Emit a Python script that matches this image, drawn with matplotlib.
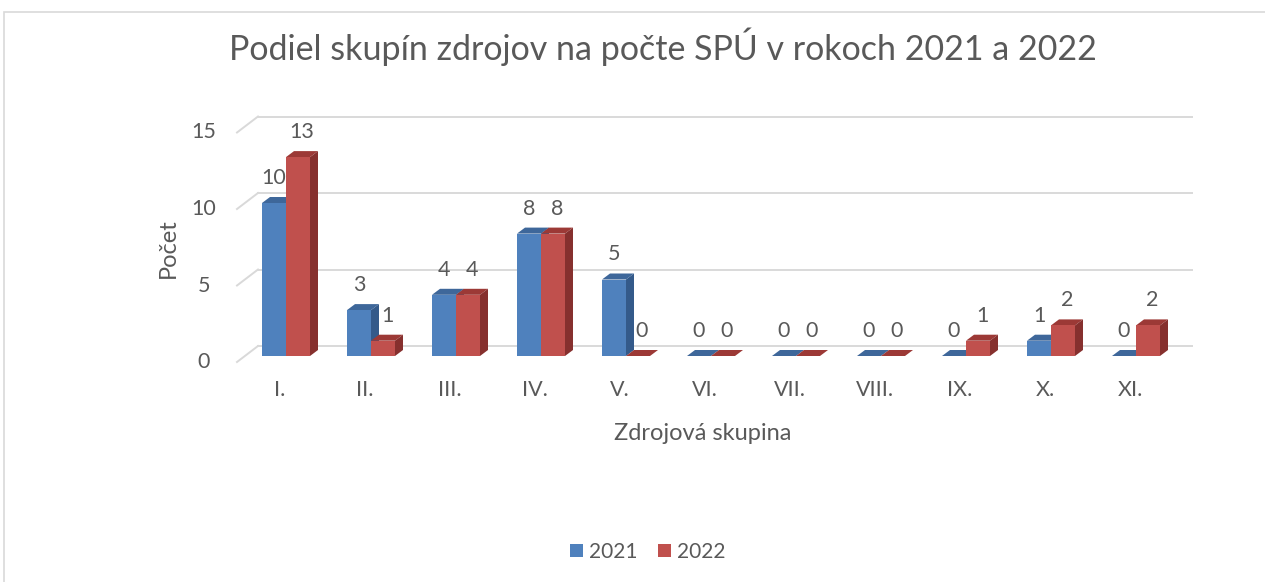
import matplotlib.pyplot as plt
from matplotlib.patches import Polygon, Rectangle, Patch

plt.rcParams['font.family'] = ['Lato', 'DejaVu Sans']

# data
categories = ['I.', 'II.', 'III.', 'IV.', 'V.', 'VI.', 'VII.', 'VIII.', 'IX.', 'X.', 'XI.']
v2021 = [10, 3, 4, 8, 5, 0, 0, 0, 0, 1, 0]
v2022 = [13, 1, 4, 8, 0, 0, 0, 0, 1, 2, 2]
series_names = ['2021', '2022']
yticks = [0, 5, 10, 15]

title = 'Podiel skupín zdrojov na počte SPÚ v rokoch 2021 a 2022'
xlabel = 'Zdrojová skupina'
ylabel = 'Počet'

# colours: front, side, top
blue = ('#4F81BD', '#345A8A', '#3E679A')
red = ('#C0504D', '#86302E', '#9C3936')
txt = '#595959'
grid = '#D9D9D9'

W, H = 1265, 582
fig = plt.figure(figsize=(W / 100, H / 100), dpi=100)
ax = fig.add_axes([0, 0, 1, 1])

# pixel geometry of the plot (category 0 centre, px per category, zero line, px per unit)
X0, XS = 286, 85
Y0, YS = 356, 15.3
ax.set_xlim(-X0 / XS, (W - X0) / XS)
ax.set_ylim((Y0 - H) / YS, Y0 / YS)
ax.axis('off')


def px(d):
    return d / XS


def py(d):
    return d / YS


def cx(p):
    return (p - X0) / XS


bw = px(24)
ddx, ddy = px(8), py(6)
fs = 15.5

# back wall gridlines + left perspective stubs
for v in yticks:
    yb = v + py(10)
    ax.plot([cx(258), cx(1192)], [yb, yb], color=grid, lw=1.4, zorder=1)
    ax.plot([cx(237), cx(258)], [v - py(6), yb], color=grid, lw=1.4, zorder=1)
    ax.text(cx(204), v - py(6), str(v), ha='center', va='center', fontsize=fs, color=txt)


def bar3d(x, v, cols):
    x0, x1 = x - bw / 2, x + bw / 2
    top = Polygon([(x0, v), (x1, v), (x1 + ddx, v + ddy), (x0 + ddx, v + ddy)],
                  closed=True, facecolor=cols[2], edgecolor='none', zorder=3)
    side = Polygon([(x1, 0), (x1 + ddx, ddy), (x1 + ddx, v + ddy), (x1, v)],
                   closed=True, facecolor=cols[1], edgecolor='none', zorder=3)
    ax.add_patch(top)
    ax.add_patch(side)
    ax.bar(x, v, width=bw, color=cols[0], zorder=3)


for i, cat in enumerate(categories):
    xb = i - bw / 2
    xr = i + bw / 2
    bar3d(xb, v2021[i], blue)
    bar3d(xr, v2022[i], red)
    ax.text(xb, v2021[i] + py(25), str(v2021[i]), ha='center', va='center',
            fontsize=fs, color=txt, zorder=4)
    ax.text(xr + px(4), v2022[i] + py(25), str(v2022[i]), ha='center', va='center',
            fontsize=fs, color=txt, zorder=4)
    ax.text(i - px(6), py(-34), cat, ha='center', va='center', fontsize=fs, color=txt)

fig.text(663 / W, 1 - 47 / H, title, ha='center', va='center', fontsize=24.5,
         color=txt)
fig.text(168 / W, 1 - 248 / H, ylabel, ha='center', va='center', rotation=90,
         fontsize=17, color=txt)
fig.text(703 / W, 1 - 433 / H, xlabel, ha='center', va='center', fontsize=17, color=txt)

handles = [Patch(facecolor=blue[0], label=series_names[0]),
           Patch(facecolor=red[0], label=series_names[1])]
fig.legend(handles=handles, loc='center', bbox_to_anchor=(648 / W, 1 - 552 / H), ncol=2,
           frameon=False, fontsize=15, handlelength=0.6, handleheight=0.6,
           handletextpad=0.3, columnspacing=1.0, labelcolor=txt)

# chart frame
fig.add_artist(Rectangle((4 / W, -0.05), 1.1, 1.05 - 12 / H, transform=fig.transFigure,
                         fill=False, edgecolor=grid, lw=1.2))

fig.savefig('out.png', dpi=100)
